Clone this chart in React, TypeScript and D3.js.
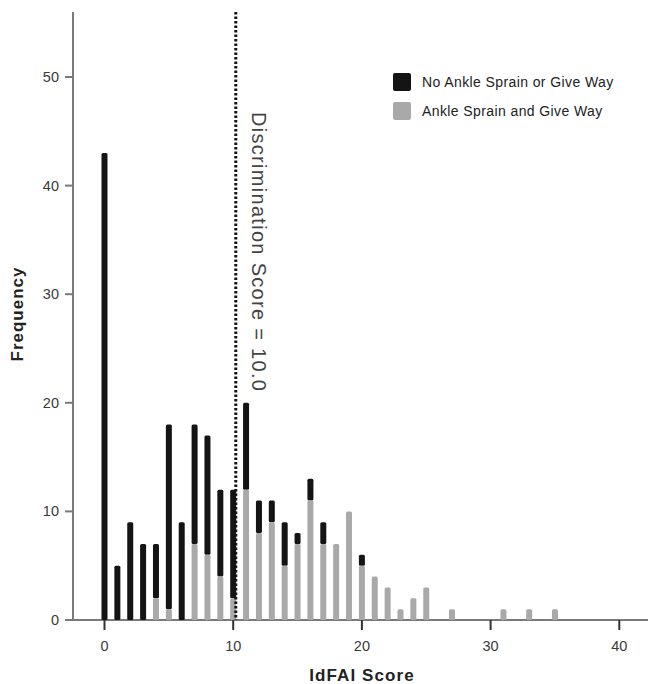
import { useEffect, useRef } from 'react'
import * as d3 from 'd3'

// idFAI score bins, total count and the "sprain + give way" part of each bar
const scores = [0, 1, 2, 3, 4, 5, 6, 7, 8, 9, 10, 11, 12, 13, 14, 15, 16, 17, 18, 19, 20, 21, 22, 23, 24, 25, 27, 31, 33, 35]
const totals = [43, 5, 9, 7, 7, 18, 9, 18, 17, 12, 12, 20, 11, 11, 9, 8, 13, 9, 7, 10, 6, 4, 3, 1, 2, 3, 1, 1, 1, 1]
const sprainCounts = [0, 0, 0, 0, 2, 1, 0, 7, 6, 4, 2, 12, 8, 9, 5, 7, 11, 7, 7, 10, 5, 4, 3, 1, 2, 3, 1, 1, 1, 1]
const xTicks = [0, 10, 20, 30, 40]
const yTicks = [0, 10, 20, 30, 40, 50]
const legendLabels = ['No Ankle Sprain or Give Way', 'Ankle Sprain and Give Way']
const cutoff = 10.2

export default function App() {
  const ref = useRef<SVGSVGElement>(null)

  useEffect(() => {
    const svg = d3.select(ref.current)
    svg.selectAll('*').remove()

    const left = 73, right = 648, top = 12, bottom = 620
    const x = d3.scaleLinear().domain([0, 40]).range([104.5, 619.3])
    const y = d3.scaleLinear().domain([0, 50]).range([bottom, 77])
    const font = 'Liberation Sans, Arial, sans-serif'
    const black = '#141414'
    const grey = '#a9a9a9'
    const axisCol = '#7a7a7a'

    const rows = scores.map((s, i) => ({ s, total: totals[i], sprain: sprainCounts[i] }))
    const bw = 6

    // axes lines
    svg.append('line').attr('x1', left).attr('x2', left).attr('y1', top).attr('y2', bottom)
      .attr('stroke', axisCol).attr('stroke-width', 2)
    svg.append('line').attr('x1', left).attr('x2', right).attr('y1', bottom).attr('y2', bottom)
      .attr('stroke', axisCol).attr('stroke-width', 2)

    // bars
    const g = svg.append('g')
    g.selectAll('.blk').data(rows.filter(d => d.total > d.sprain)).enter().append('rect')
      .attr('x', d => x(d.s) - bw / 2).attr('width', bw)
      .attr('y', d => y(d.total)).attr('height', d => y(d.sprain) - y(d.total))
      .attr('fill', black).attr('rx', 1.5)
    g.selectAll('.gry').data(rows.filter(d => d.sprain > 0)).enter().append('rect')
      .attr('x', d => x(d.s) - bw / 2).attr('width', bw)
      .attr('y', d => y(d.sprain)).attr('height', d => bottom - y(d.sprain))
      .attr('fill', grey).attr('rx', 1.5)

    // y ticks
    yTicks.forEach(t => {
      svg.append('line').attr('x1', left - 8).attr('x2', left).attr('y1', y(t)).attr('y2', y(t))
        .attr('stroke', axisCol).attr('stroke-width', 2)
      svg.append('text').attr('x', 59).attr('y', y(t) + 5).attr('text-anchor', 'end')
        .attr('font-family', font).attr('font-size', 14.5).attr('fill', '#3a3a3a').text(t)
    })
    // x ticks
    xTicks.forEach(t => {
      svg.append('line').attr('x1', x(t)).attr('x2', x(t)).attr('y1', bottom).attr('y2', bottom + 10)
        .attr('stroke', '#333').attr('stroke-width', 2)
      svg.append('text').attr('x', x(t)).attr('y', 651).attr('text-anchor', 'middle')
        .attr('font-family', font).attr('font-size', 14.5).attr('fill', '#3a3a3a').text(t)
    })

    // axis titles
    svg.append('text').attr('x', 362).attr('y', 681).attr('text-anchor', 'middle')
      .attr('font-family', font).attr('font-size', 17).attr('font-weight', 'bold').attr('fill', '#222')
      .attr('letter-spacing', 1.1).text('IdFAI Score')
    svg.append('text').attr('transform', 'translate(23,314) rotate(-90)').attr('text-anchor', 'middle')
      .attr('font-family', font).attr('font-size', 17).attr('font-weight', 'bold').attr('fill', '#222')
      .attr('letter-spacing', 1).text('Frequency')

    // cutoff line
    svg.append('line').attr('x1', x(cutoff)).attr('x2', x(cutoff)).attr('y1', top).attr('y2', bottom)
      .attr('stroke', black).attr('stroke-width', 3).attr('stroke-dasharray', '2.5,2')
    svg.append('text').attr('transform', `translate(${x(cutoff) + 16},112) rotate(90)`)
      .attr('font-family', font).attr('font-size', 20).attr('fill', '#444').attr('letter-spacing', 1.3)
      .text('Discrimination Score = 10.0')

    // legend
    const legend = svg.append('g').attr('transform', 'translate(393,73)')
    legendLabels.forEach((l, i) => {
      legend.append('rect').attr('x', 0).attr('y', i * 29).attr('width', 18).attr('height', 18)
        .attr('rx', 2).attr('fill', i === 0 ? black : grey)
      legend.append('text').attr('x', 29).attr('y', i * 29 + 14).attr('font-family', font)
        .attr('font-size', 14).attr('fill', '#222').attr('letter-spacing', 0.4).text(l)
    })
  }, [])

  return (
    <svg ref={ref} width={648} height={684} style={{ position: 'absolute', left: 0, top: 0, background: '#fff' }} />
  )
}
